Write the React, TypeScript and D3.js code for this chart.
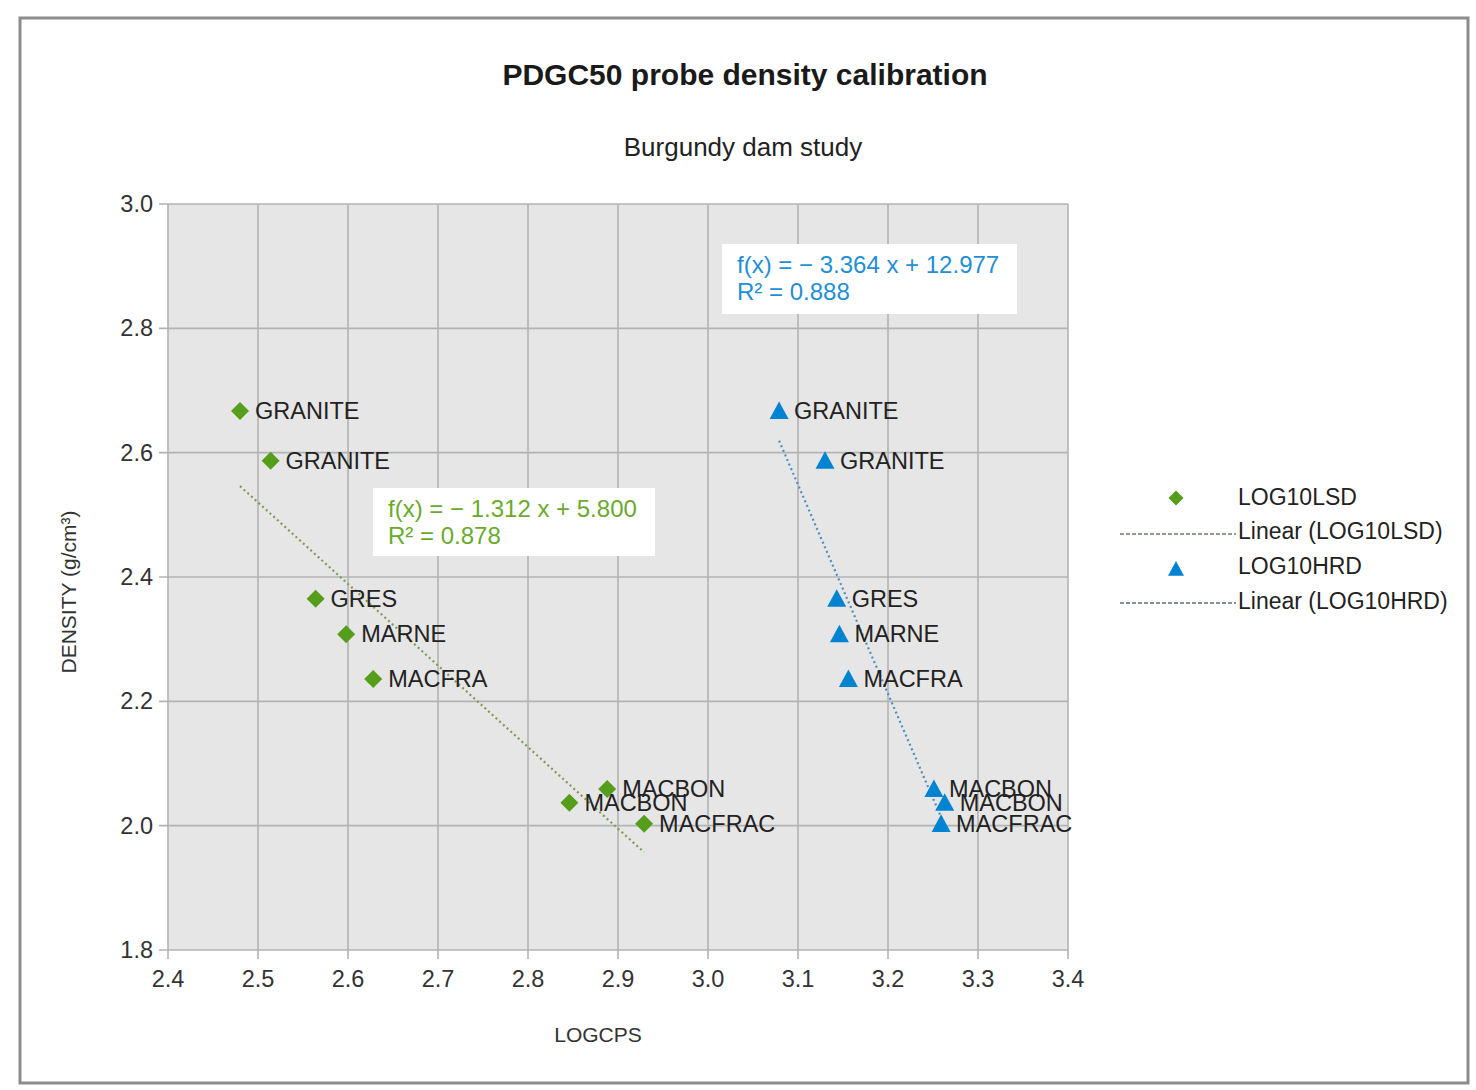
import React from "react";
import * as d3 from "d3";

// Rock samples and their measured density (g/cm³)
const ROCKS = ["GRANITE", "GRANITE", "GRES", "MARNE", "MACFRA", "MACBON", "MACBON", "MACFRAC"];
const DENSITY = [2.667, 2.587, 2.365, 2.308, 2.236, 2.059, 2.037, 2.003];
// Log10 count rates for the two detectors
const LOG10LSD = [2.48, 2.514, 2.564, 2.598, 2.628, 2.888, 2.846, 2.929];
const LOG10HRD = [3.079, 3.13, 3.143, 3.146, 3.156, 3.251, 3.263, 3.259];
// Linear fit coefficients [slope, intercept, R²]
const FIT_LSD = [-1.312, 5.8, 0.878];
const FIT_HRD = [-3.364, 12.977, 0.888];

const X_TICKS = [2.4, 2.5, 2.6, 2.7, 2.8, 2.9, 3.0, 3.1, 3.2, 3.3, 3.4];
const Y_TICKS = [1.8, 2.0, 2.2, 2.4, 2.6, 2.8, 3.0];

const GREEN = "#579d1c";
const BLUE = "#0084d1";
const FONT = "'Liberation Sans', Arial, sans-serif";

const W = 1476;
const H = 1090;

const x = d3.scaleLinear().domain([2.4, 3.4]).range([168, 1068]);
const y = d3.scaleLinear().domain([1.8, 3.0]).range([950, 204]);
const fmt = d3.format(".1f");

function diamond(cx: number, cy: number, r: number) {
  return `M${cx},${cy - r}L${cx + r},${cy}L${cx},${cy + r}L${cx - r},${cy}Z`;
}
function triangle(cx: number, cy: number, r: number) {
  return `M${cx},${cy - r}L${cx + r},${cy + r * 0.85}L${cx - r},${cy + r * 0.85}Z`;
}

function fitLine(xs: number[], fit: number[]) {
  const [lo, hi] = d3.extent(xs) as [number, number];
  const line = d3
    .line<number>()
    .x((v) => x(v))
    .y((v) => y(fit[0] * v + fit[1]));
  return line([lo, hi]) || "";
}

function fmtEq(fit: number[]) {
  const sign = fit[0] < 0 ? "\u2212 " : "";
  return `f(x) = ${sign}${Math.abs(fit[0]).toFixed(3)} x + ${fit[1].toFixed(3)}`;
}

function Series({ xs, color, shape }: { xs: number[]; color: string; shape: "d" | "t" }) {
  return (
    <g>
      {xs.map((v, i) => (
        <path
          key={"m" + i}
          d={shape === "d" ? diamond(x(v), y(DENSITY[i]), 9) : triangle(x(v), y(DENSITY[i]), 9.5)}
          fill={color}
        />
      ))}
      {xs.map((v, i) => (
        <text
          key={"l" + i}
          x={x(v) + 15}
          y={y(DENSITY[i])}
          dominantBaseline="central"
          fontSize={23.5}
          fill="#222"
        >
          {ROCKS[i]}
        </text>
      ))}
    </g>
  );
}

function EqBox({
  bx,
  by,
  bw,
  bh,
  fit,
  color,
}: {
  bx: number;
  by: number;
  bw: number;
  bh: number;
  fit: number[];
  color: string;
}) {
  return (
    <g>
      <rect x={bx} y={by} width={bw} height={bh} fill="#ffffff" />
      <text x={bx + 15} y={by + 20} dominantBaseline="central" fontSize={24} fill={color}>
        {fmtEq(fit)}
      </text>
      <text x={bx + 15} y={by + 47} dominantBaseline="central" fontSize={24} fill={color}>
        {`R\u00b2 = ${fit[2].toFixed(3)}`}
      </text>
    </g>
  );
}

export default function App() {
  const [x0, x1] = x.range();
  const [y0, y1] = y.range();
  return (
    <svg
      width={W}
      height={H}
      style={{ position: "absolute", left: 0, top: 0, background: "#fff" }}
      fontFamily={FONT}
    >
      <rect x={0} y={0} width={W} height={H} fill="#fff" />
      <rect x={20} y={18} width={1448} height={1065} fill="#fff" stroke="#8c8c8c" strokeWidth={3} />

      {/* titles */}
      <text x={745} y={74} textAnchor="middle" dominantBaseline="central" fontSize={30} fontWeight="bold" fill="#1a1a1a">
        PDGC50 probe density calibration
      </text>
      <text x={743} y={147} textAnchor="middle" dominantBaseline="central" fontSize={26} fill="#222">
        Burgundy dam study
      </text>

      {/* plot area */}
      <rect x={x0} y={y1} width={x1 - x0} height={y0 - y1} fill="#e6e6e6" />
      {X_TICKS.map((t) => (
        <g key={"xt" + t}>
          <line x1={x(t)} x2={x(t)} y1={y1} y2={y0 + 9} stroke="#b3b3b3" strokeWidth={1.6} />
          <text x={x(t)} y={979} textAnchor="middle" dominantBaseline="central" fontSize={23.5} fill="#333">
            {fmt(t)}
          </text>
        </g>
      ))}
      {Y_TICKS.map((t) => (
        <g key={"yt" + t}>
          <line x1={x0 - 9} x2={x1} y1={y(t)} y2={y(t)} stroke="#b3b3b3" strokeWidth={1.6} />
          <text x={153} y={y(t)} textAnchor="end" dominantBaseline="central" fontSize={23.5} fill="#333">
            {fmt(t)}
          </text>
        </g>
      ))}

      {/* axis titles */}
      <text x={598} y={1034} textAnchor="middle" dominantBaseline="central" fontSize={21} fill="#333">
        LOGCPS
      </text>
      <text
        transform={`translate(68,592) rotate(-90)`}
        textAnchor="middle"
        dominantBaseline="central"
        fontSize={21}
        fill="#333"
      >
        DENSITY (g/cm³)
      </text>

      {/* trend lines */}
      <path d={fitLine(LOG10LSD, FIT_LSD)} stroke="#7f9a55" strokeWidth={2.2} strokeDasharray="2 3" fill="none" />
      <path d={fitLine(LOG10HRD, FIT_HRD)} stroke="#4f8fbf" strokeWidth={2.2} strokeDasharray="2 3" fill="none" />

      <Series xs={LOG10LSD} color={GREEN} shape="d" />
      <Series xs={LOG10HRD} color={BLUE} shape="t" />

      <EqBox bx={373} by={488} bw={282} bh={68} fit={FIT_LSD} color="#6aaa2e" />
      <EqBox bx={722} by={244} bw={295} bh={70} fit={FIT_HRD} color="#1f8fd6" />

      {/* legend */}
      <path d={diamond(1176, 498, 7.5)} fill={GREEN} />
      <text x={1238} y={497} dominantBaseline="central" fontSize={23} fill="#222">
        LOG10LSD
      </text>
      <line x1={1120} x2={1236} y1={534} y2={534} stroke="#6a7a6a" strokeWidth={1.3} strokeDasharray="4 2" />
      <text x={1238} y={531} dominantBaseline="central" fontSize={23} fill="#222">
        Linear (LOG10LSD)
      </text>
      <path d={triangle(1176, 569, 8)} fill={BLUE} />
      <text x={1238} y={566} dominantBaseline="central" fontSize={23} fill="#222">
        LOG10HRD
      </text>
      <line x1={1120} x2={1236} y1={603} y2={603} stroke="#5a7088" strokeWidth={1.3} strokeDasharray="4 2" />
      <text x={1238} y={601} dominantBaseline="central" fontSize={23} fill="#222">
        Linear (LOG10HRD)
      </text>
    </svg>
  );
}
